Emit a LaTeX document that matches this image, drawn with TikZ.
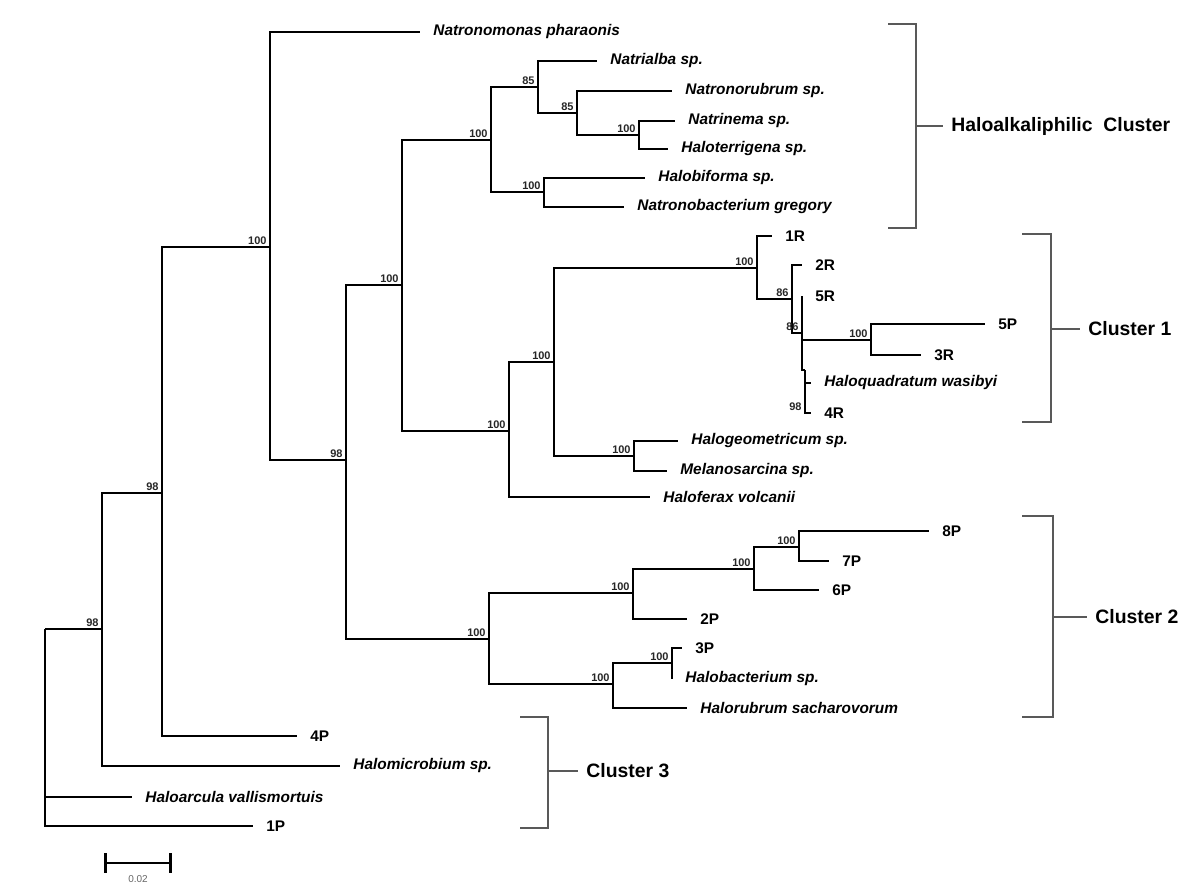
\documentclass[tikz,border=0pt]{standalone}
\usepackage{fontspec}
\setmainfont{Liberation Sans}
\usetikzlibrary{positioning}

\begin{document}
\begin{tikzpicture}[x=0.5pt, y=-0.5pt,  % one unit = one pixel of the figure, y downwards
    branch/.style={line width=1.4pt},
    taxon/.style={anchor=west, inner xsep=6.5pt, inner ysep=0pt, font=\fontsize{7.7}{8}\selectfont\bfseries\itshape},
    isolate/.style={taxon, font=\fontsize{7.7}{8}\selectfont\bfseries},
    boot/.style={anchor=south east, inner xsep=1.5pt, inner ysep=1.2pt, text=black!85, font=\fontsize{5.5}{6}\selectfont\bfseries},
    bracket/.style={line width=1pt, draw=black!65},
    cluster/.style={inner sep=0pt, font=\fontsize{9.7}{11}\selectfont\bfseries}]
    \useasboundingbox (0,0) rectangle (1200,891);  % fixes the margins

    % leaves
    \node[taxon] (natronomonas) at (420,32) {Natronomonas pharaonis};
    \node[taxon] (natrialba) at (597,61) {Natrialba sp.};
    \node[taxon] (natronorubrum) at (672,91) {Natronorubrum sp.};
    \node[taxon] (natrinema) at (675,121) {Natrinema sp.};
    \node[taxon] (haloterrigena) at (668,149) {Haloterrigena sp.};
    \node[taxon] (halobiforma) at (645,178) {Halobiforma sp.};
    \node[taxon] (natronobacterium) at (624,207) {Natronobacterium gregory};
    \node[isolate] (r1) at (772,236) {1R};
    \node[isolate] (r2) at (802,265) {2R};
    \node[isolate] (r5) at (802,296) {5R};
    \node[isolate] (p5) at (985,324) {5P};
    \node[isolate] (r3) at (921,355) {3R};
    \node[taxon] (haloquadratum) at (811,383) {Haloquadratum wasibyi};
    \node[isolate] (r4) at (811,413) {4R};
    \node[taxon] (halogeometricum) at (678,441) {Halogeometricum sp.};
    \node[taxon] (melanosarcina) at (667,471) {Melanosarcina sp.};
    \node[taxon] (haloferax) at (650,497) {Haloferax volcanii};
    \node[isolate] (p8) at (929,531) {8P};
    \node[isolate] (p7) at (829,561) {7P};
    \node[isolate] (p6) at (819,590) {6P};
    \node[isolate] (p2) at (687,619) {2P};
    \node[isolate] (p3) at (682,648) {3P};
    \node[taxon] (halobacterium) at (672,679) {Halobacterium sp.};
    \node[taxon] (halorubrum) at (687,708) {Halorubrum sacharovorum};
    \node[isolate] (p4) at (297,736) {4P};
    \node[taxon] (halomicrobium) at (340,766) {Halomicrobium sp.};
    \node[taxon] (haloarcula) at (132,797) {Haloarcula vallismortuis};
    \node[isolate] (p1) at (253,826) {1P};

    % inner nodes
    \coordinate (root) at (45,629);
    \coordinate (nA) at (102,629);
    \coordinate (nB) at (162,493);
    \coordinate (nC) at (270,247);
    \coordinate (nD) at (346,460);
    \coordinate (nE) at (402,285);
    \coordinate (nF) at (491,140);
    \coordinate (nG) at (538,87);
    \coordinate (nH) at (577,113);
    \coordinate (nI) at (639,135);
    \coordinate (nJ) at (544,192);
    \coordinate (nK) at (509,431);
    \coordinate (nL) at (554,362);
    \coordinate (nM) at (634,456);
    \coordinate (nN) at (757,268);
    \coordinate (nO) at (792,299);
    \coordinate (nP) at (802,333);
    \coordinate (nQ) at (871,340);
    \coordinate (nR) at (805,370);
    \coordinate (nS) at (489,639);
    \coordinate (nT) at (633,593);
    \coordinate (nU) at (613,684);
    \coordinate (nV) at (754,569);
    \coordinate (nW) at (799,547);
    \coordinate (nX) at (672,663);

    % branches
    \foreach \p/\c in {root/nA, root/haloarcula.west, root/p1.west,
        nA/nB, nA/halomicrobium.west, nB/nC, nB/p4.west,
        nC/natronomonas.west, nC/nD, nD/nE, nD/nS, nE/nF, nE/nK,
        nF/nG, nF/nJ, nG/natrialba.west, nG/nH,
        nH/natronorubrum.west, nH/nI, nI/natrinema.west, nI/haloterrigena.west,
        nJ/halobiforma.west, nJ/natronobacterium.west,
        nK/nL, nK/haloferax.west, nL/nN, nL/nM,
        nM/halogeometricum.west, nM/melanosarcina.west,
        nN/r1.west, nN/nO, nO/r2.west, nO/nP,
        nP/r5.west, nP/nQ, nP/nR, nQ/p5.west, nQ/r3.west,
        nR/haloquadratum.west, nR/r4.west,
        nS/nT, nS/nU, nT/nV, nT/p2.west, nV/nW, nV/p6.west,
        nW/p8.west, nW/p7.west, nU/nX, nU/halorubrum.west,
        nX/p3.west, nX/halobacterium.west}
        \draw[branch] (\p) |- (\c);

    % bootstrap values
    \foreach \n/\v in {nA/98, nB/98, nC/100, nD/98, nE/100, nF/100, nG/85,
        nH/85, nI/100, nJ/100, nK/100, nL/100, nM/100, nN/100, nO/86,
        nP/86, nQ/100, nS/100, nT/100, nU/100, nV/100, nW/100, nX/100}
        \node[boot] (b\n) at (\n) {\v};
    \node[boot] (bnR) at (nR |- r4.west) {98};

    % clusters
    \foreach \k/\xa/\xb/\ya/\yb/\ym/\xt/\txt in {
        alk/888/916/24/228/126/943/Haloalkaliphilic~~Cluster,
        one/1022/1051/234/422/329/1080/Cluster 1,
        two/1022/1053/516/717/617/1087/Cluster 2,
        three/520/548/717/828/771/578/Cluster 3} {
        \draw[bracket] (\xa,\ya) -- (\xb,\ya) -- (\xb,\yb) -- (\xa,\yb);
        \coordinate (tick\k) at (\xt,\ym);
        \draw[bracket] (\xb,\ym) -- (tick\k);
        \node[cluster, right=4pt of tick\k] (lab\k) {\txt};
    }

    % scale bar
    \coordinate (sbL) at (104,863);
    \coordinate (sbR) at (172,863);
    \draw[branch, |-|] (sbL) -- (sbR);
    \node[text=black!60, font=\fontsize{5}{6}\selectfont] (sbval) at (138,879) {0.02};
\end{tikzpicture}
\end{document}
